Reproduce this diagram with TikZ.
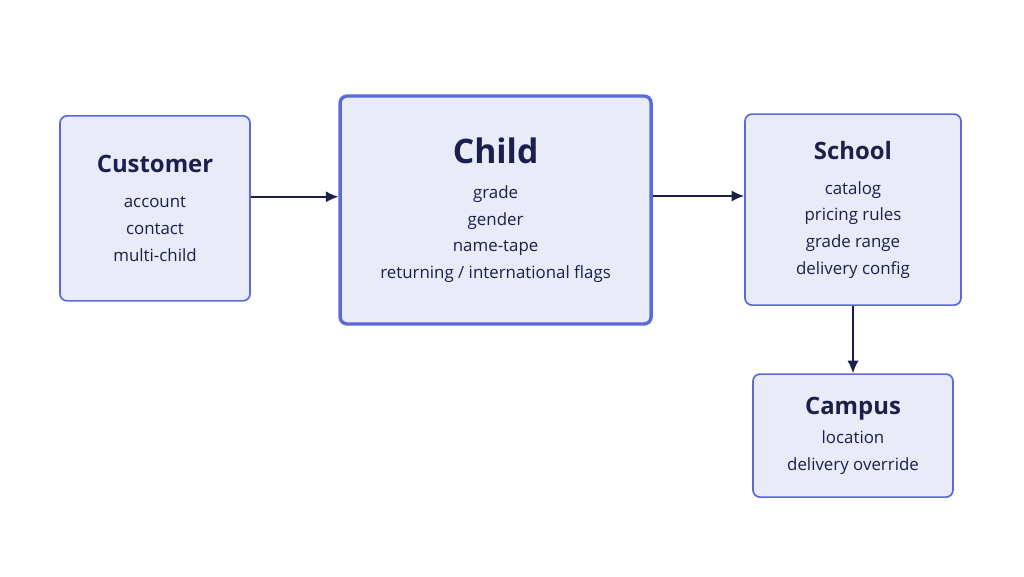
\documentclass[tikz,border=0pt]{standalone}
\usepackage{fontspec}
\setmainfont{Open Sans}
\usepackage{tikz}
\usetikzlibrary{calc, positioning, arrows.meta}
\definecolor{boxfill}{HTML}{E9EBF9}
\definecolor{boxline}{HTML}{5A6BD8}
\definecolor{ink}{HTML}{1B1F4B}
\tikzstyle{entity}=[draw=boxline, fill=boxfill, shape=rectangle, rounded corners=5pt, line width=1.2pt, align=center, text=ink, font=\fontsize{12}{19}\selectfont, inner sep=0pt]
\tikzstyle{link}=[draw=ink, line width=1.1pt, -{Latex[length=9pt, width=8pt]}]
\tikzset{>=stealth}

\begin{document}
\begin{tikzpicture}
\useasboundingbox (0,0) rectangle (25.6,14.4);
% the customer
\node[entity, minimum width=4.75cm, minimum height=4.625cm] (Cust) at (3.875, 9.19)
  {{\fontsize{17}{20}\selectfont\bfseries Customer}\\[6pt] account\\ contact\\ multi-child};
% the child, in the middle
\node[entity, line width=2.4pt, minimum width=7.775cm, minimum height=5.7cm] (Chld) at (12.39, 9.15)
  {{\fontsize{24}{28}\selectfont\bfseries Child}\\[6pt] grade\\ gender\\ name-tape\\ returning / international flags};
% the school
\node[entity, minimum width=5.4cm, minimum height=4.775cm] (Schl) at (21.325, 9.16)
  {{\fontsize{17}{20}\selectfont\bfseries School}\\[6pt] catalog\\ pricing rules\\ grade range\\ delivery config};
% the campus
\node[entity, minimum width=5cm, minimum height=3.075cm] (Camp) at (21.325, 3.51)
  {{\fontsize{17}{20}\selectfont\bfseries Campus}\\[2pt] location\\ delivery override};
% the links
\draw[link] (Cust.east |- 0,9.48) -- (Chld.west |- 0,9.48);
\draw[link] (Chld.east |- 0,9.5) -- (Schl.west |- 0,9.5);
\draw[link] (Schl) -- (Camp);
\end{tikzpicture}
\end{document}
